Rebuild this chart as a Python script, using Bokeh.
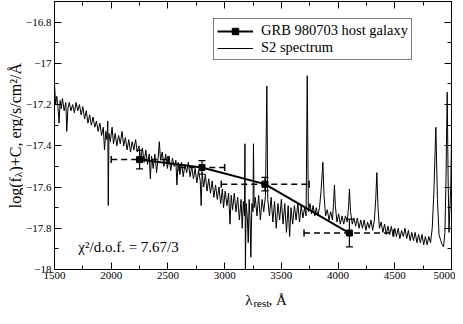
import math
from bokeh.plotting import figure
from bokeh.layouts import row, column
from bokeh.models import (Range1d, LinearAxis, FixedTicker, CustomJSTickFormatter, Whisker,
                          TeeHead, ColumnDataSource, Label, Legend, LegendItem)
from bokeh.embed import file_html
from bokeh.resources import INLINE

# ---------------- data ----------------
spec_wave = [1500, 1510, 1520, 1530, 1540, 1550, 1560, 1570, 1585, 1600, 1608, 1618, 1630, 1645, 1660,
             1675, 1690, 1705, 1720, 1735, 1750, 1765, 1780, 1795, 1810, 1825, 1840, 1855, 1870, 1885,
             1900, 1915, 1930, 1941, 1952, 1962, 1970, 1974, 1980, 1992, 2008, 2020, 2035, 2050, 2065,
             2080, 2095, 2110, 2125, 2140, 2155, 2170, 2185, 2200, 2215, 2230, 2245, 2260, 2275, 2290,
             2305, 2320, 2335, 2345, 2355, 2370, 2385, 2400, 2415, 2424, 2435, 2450, 2465, 2480, 2495,
             2510, 2525, 2540, 2555, 2570, 2579, 2590, 2605, 2620, 2635, 2650, 2665, 2680, 2695, 2710,
             2725, 2740, 2755, 2770, 2785, 2793, 2802, 2815, 2830, 2845, 2860, 2875, 2890, 2905, 2920,
             2935, 2950, 2965, 2980, 2990, 3005, 3020, 3035, 3047, 3058, 3070, 3085, 3100, 3115, 3130,
             3145, 3155, 3165, 3175, 3179, 3183, 3190, 3200, 3208, 3216, 3224, 3231, 3240, 3250, 3254,
             3260, 3270, 3285, 3300, 3315, 3330, 3345, 3360, 3372, 3380, 3395, 3410, 3425, 3440, 3455,
             3470, 3485, 3500, 3515, 3530, 3545, 3560, 3573, 3585, 3600, 3615, 3630, 3645, 3660, 3675,
             3690, 3705, 3718, 3728, 3738, 3752, 3766, 3780, 3794, 3808, 3822, 3836, 3850, 3866, 3876,
             3890, 3905, 3920, 3935, 3950, 3960, 3968, 3976, 3990, 4005, 4020, 4035, 4050, 4065, 4080,
             4092, 4100, 4110, 4125, 4140, 4155, 4170, 4185, 4200, 4215, 4230, 4245, 4260, 4275, 4290,
             4305, 4320, 4332, 4342, 4352, 4365, 4380, 4395, 4410, 4425, 4440, 4455, 4470, 4485, 4500,
             4515, 4530, 4545, 4560, 4575, 4590, 4605, 4620, 4635, 4650, 4665, 4680, 4695, 4710, 4725,
             4740, 4755, 4770, 4785, 4800, 4815, 4830, 4845, 4862, 4876, 4890, 4905, 4918, 4930, 4942,
             4952, 4962, 4970, 4978, 4986, 4994, 5000]
spec_flux = [-17.10, -17.20, -17.16, -17.21, -17.29, -17.18, -17.22, -17.17, -17.23, -17.19, -17.33, -17.22, -17.19, -17.23, -17.20,
             -17.24, -17.19, -17.23, -17.20, -17.25, -17.21, -17.27, -17.23, -17.29, -17.25, -17.30, -17.26, -17.31, -17.28, -17.33,
             -17.29, -17.35, -17.31, -17.42, -17.33, -17.37, -17.28, -17.69, -17.34, -17.38, -17.31, -17.39, -17.34, -17.40, -17.35,
             -17.39, -17.33, -17.40, -17.36, -17.42, -17.37, -17.43, -17.38, -17.42, -17.37, -17.43, -17.40, -17.47, -17.41, -17.48,
             -17.42, -17.49, -17.44, -17.56, -17.45, -17.51, -17.44, -17.53, -17.45, -17.38, -17.47, -17.43, -17.50, -17.44, -17.51,
             -17.45, -17.52, -17.46, -17.50, -17.47, -17.59, -17.48, -17.54, -17.48, -17.55, -17.49, -17.53, -17.48, -17.55, -17.50,
             -17.56, -17.51, -17.58, -17.52, -17.57, -17.69, -17.53, -17.60, -17.54, -17.62, -17.56, -17.63, -17.57, -17.65, -17.59,
             -17.66, -17.60, -17.68, -17.61, -17.70, -17.62, -17.69, -17.63, -17.78, -17.64, -17.71, -17.63, -17.72, -17.65, -17.76,
             -17.66, -17.80, -17.67, -17.74, -17.39, -18.00, -17.68, -17.75, -17.87, -17.66, -17.76, -17.94, -17.68, -17.72, -17.39,
             -17.70, -17.65, -17.74, -17.64, -17.76, -17.66, -17.72, -17.64, -17.11, -17.66, -17.74, -17.65, -17.77, -17.67, -17.80,
             -17.68, -17.76, -17.66, -17.78, -17.68, -17.82, -17.69, -17.84, -17.70, -17.78, -17.69, -17.76, -17.68, -17.77, -17.69,
             -17.75, -17.70, -17.74, -17.06, -17.72, -17.68, -17.73, -17.69, -17.74, -17.70, -17.74, -17.70, -17.62, -17.48, -17.64,
             -17.74, -17.71, -17.76, -17.72, -17.76, -17.68, -17.59, -17.69, -17.77, -17.73, -17.78, -17.74, -17.78, -17.74, -17.77,
             -17.70, -17.61, -17.72, -17.78, -17.75, -17.79, -17.75, -17.80, -17.76, -17.80, -17.76, -17.81, -17.77, -17.80, -17.76,
             -17.81, -17.76, -17.66, -17.53, -17.70, -17.80, -17.77, -17.82, -17.78, -17.83, -17.79, -17.83, -17.79, -17.84, -17.80,
             -17.84, -17.80, -17.85, -17.81, -17.84, -17.80, -17.85, -17.81, -17.86, -17.82, -17.86, -17.82, -17.87, -17.83, -17.87,
             -17.83, -17.88, -17.84, -17.88, -17.84, -17.87, -17.80, -17.62, -17.31, -17.66, -17.83, -17.86, -17.88, -17.89, -17.82,
             -17.55, -17.14, -17.55, -17.82, -17.70, -17.60, -17.35]

grb_wave = [2250, 2800, 3355, 4100]
grb_flux = [-17.467, -17.505, -17.586, -17.823]
grb_ferr = [0.045, 0.033, 0.033, 0.067]
grb_wlo = [2000, 2600, 2970, 3700]
grb_whi = [2500, 3000, 3745, 4490]

x_ticks = [1500, 2000, 2500, 3000, 3500, 4000, 4500, 5000]
x_minor = [1750, 2250, 2750, 3250, 3750, 4250, 4750]
x_labels = ["1500", "2000", "2500", "3000", "3500", "4000", "4500", "5000"]
y_ticks = [-18.0, -17.8, -17.6, -17.4, -17.2, -17.0, -16.8]
y_minor = [-17.9, -17.7, -17.5, -17.3, -17.1, -16.9, -16.7]
y_labels = ["\u221218", "\u221217.8", "\u221217.6", "\u221217.4", "\u221217.2", "\u221217", "\u221216.8"]

chi_text = "\u03c7\u00b2/d.o.f. = 7.67/3"
legend_labels = ["GRB 980703 host galaxy", "S2 spectrum"]

FONT = "Liberation Serif"

# ---------------- layout sizes ----------------
W, H = 455, 308
YLW = 23            # width of the y-label strip
XLH = 24            # height of the x-label strip
MW, MH = W - YLW, H - XLH
BL, BR, BT, BB = 29, 4, 1, 15
FW, FH = MW - BL - BR, MH - BT - BB
X0, X1, Y0, Y1 = 1500, 5000, -18.0, -16.7

p = figure(width=MW, height=MH, x_range=Range1d(X0, X1), y_range=Range1d(Y0, Y1),
           output_backend="svg", toolbar_location=None,
           min_border_left=BL, min_border_right=BR, min_border_top=BT, min_border_bottom=BB)
p.grid.visible = False
p.outline_line_color = "black"
p.background_fill_color = "white"
p.border_fill_color = "white"


def fmt(tv, tl):
    return CustomJSTickFormatter(args=dict(tvals=tv, tlabs=tl), code="""
        for (let i = 0; i < tvals.length; i++) { if (Math.abs(tvals[i] - tick) < 1e-6) return tlabs[i]; }
        return '';""")


def style(ax, tv, minor, tl, show):
    ax.ticker = FixedTicker(ticks=tv, minor_ticks=minor)
    ax.formatter = fmt(tv, tl if show else ["" for _ in tl])
    ax.major_tick_in = 7
    ax.major_tick_out = 0
    ax.minor_tick_in = 4
    ax.minor_tick_out = 0
    ax.axis_line_color = "black"
    ax.major_tick_line_color = "black"
    ax.minor_tick_line_color = "black"
    ax.major_label_text_font = FONT
    ax.major_label_text_color = "black"
    ax.major_label_text_font_size = "11px"
    ax.major_label_standoff = 3 if show else 0


style(p.xaxis[0], x_ticks, x_minor, x_labels, True)
style(p.yaxis[0], y_ticks, y_minor, y_labels, True)
p.xaxis[0].major_label_standoff = 2
ax_top = LinearAxis()
style(ax_top, x_ticks, x_minor, x_labels, False)
p.add_layout(ax_top, "above")
ax_right = LinearAxis()
style(ax_right, y_ticks, y_minor, y_labels, False)
p.add_layout(ax_right, "right")

# spectrum
spec_r = p.line(spec_wave, spec_flux, line_color="black", line_width=1)

# error bars
err_src = ColumnDataSource(dict(
    x=grb_wave, y=grb_flux,
    ylo=[f - e for f, e in zip(grb_flux, grb_ferr)],
    yhi=[f + e for f, e in zip(grb_flux, grb_ferr)],
    xlo=grb_wlo, xhi=grb_whi))
p.add_layout(Whisker(source=err_src, base="y", lower="xlo", upper="xhi", dimension="width",
                     line_color="black", line_width=1.5, line_dash="6 4",
                     lower_head=TeeHead(size=7, line_width=1.5), upper_head=TeeHead(size=7, line_width=1.5)))
p.add_layout(Whisker(source=err_src, base="x", lower="ylo", upper="yhi", dimension="height",
                     line_color="black", line_width=1.2,
                     lower_head=TeeHead(size=7, line_width=1.2), upper_head=TeeHead(size=7, line_width=1.2)))

grb_line = p.line(grb_wave, grb_flux, line_color="black", line_width=2)
grb_pts = p.scatter(grb_wave, grb_flux, marker="square", size=6, color="black")

# legend
legend = Legend(items=[LegendItem(label=legend_labels[0], renderers=[grb_line, grb_pts]),
                       LegendItem(label=legend_labels[1], renderers=[spec_r])],
                location=(159, FH - 21 - 38), orientation="vertical",
                border_line_color="black", border_line_width=1, background_fill_color="white",
                background_fill_alpha=1, padding=3, spacing=0, margin=0,
                glyph_width=36, glyph_height=16, label_height=16, label_standoff=8,
                label_text_font=FONT, label_text_font_size="14.5px", label_text_color="black")
p.add_layout(legend)

# chi2 annotation
p.add_layout(Label(x=1710, y=-17.89, text=chi_text, text_font=FONT, text_font_size="15px",
                   text_color="black", text_baseline="alphabetic"))

common = dict(text_font=FONT, text_color="black", text_align="left", text_baseline="alphabetic")


def strip(w, h):
    f = figure(width=w, height=h, x_range=Range1d(0, w), y_range=Range1d(0, h),
               output_backend="svg", toolbar_location=None, x_axis_type=None, y_axis_type=None,
               min_border=0, min_border_left=0, min_border_right=0, min_border_top=0, min_border_bottom=0)
    f.outline_line_color = None
    f.grid.visible = False
    f.background_fill_color = "white"
    f.border_fill_color = "white"
    return f


# y axis label strip (log(f_λ)+C, erg/s/cm²/Å), rotated, reading upward
yl = strip(YLW, H)
ys = 16.0
w1 = 1.944 * ys
w2 = 5.6
w3 = 6.808 * ys
total = w1 + w2 + w3
frame_mid = H - (BT + FH / 2)          # frame centre, measured from the strip bottom
s0 = frame_mid - total / 2
xb = 14.5
rot = math.pi / 2
yl.add_layout(Label(x=xb, y=s0, angle=rot, text="log(f", text_font_size="16px", **common))
yl.add_layout(Label(x=xb + 3, y=s0 + w1, angle=rot, text="\u03bb", text_font_size="11px", **common))
yl.add_layout(Label(x=xb, y=s0 + w1 + w2, angle=rot, text=")+C, erg/s/cm\u00b2/\u00c5",
                    text_font_size="16px", **common))

# x axis label strip (λ_rest, Å)
xlf = strip(MW, XLH)
cx = BL + FW / 2 - 21
xlf.add_layout(Label(x=cx, y=9, text="\u03bb", text_font_size="15px", **common))
xlf.add_layout(Label(x=cx + 9, y=5.5, text="rest", text_font_size="11px", **common))
xlf.add_layout(Label(x=cx + 9 + 16.5, y=9, text=", \u00c5", text_font_size="15px", **common))

layout = row(yl, column(p, xlf, spacing=0), spacing=0)
open("out.html", "w").write(file_html(layout, INLINE))
